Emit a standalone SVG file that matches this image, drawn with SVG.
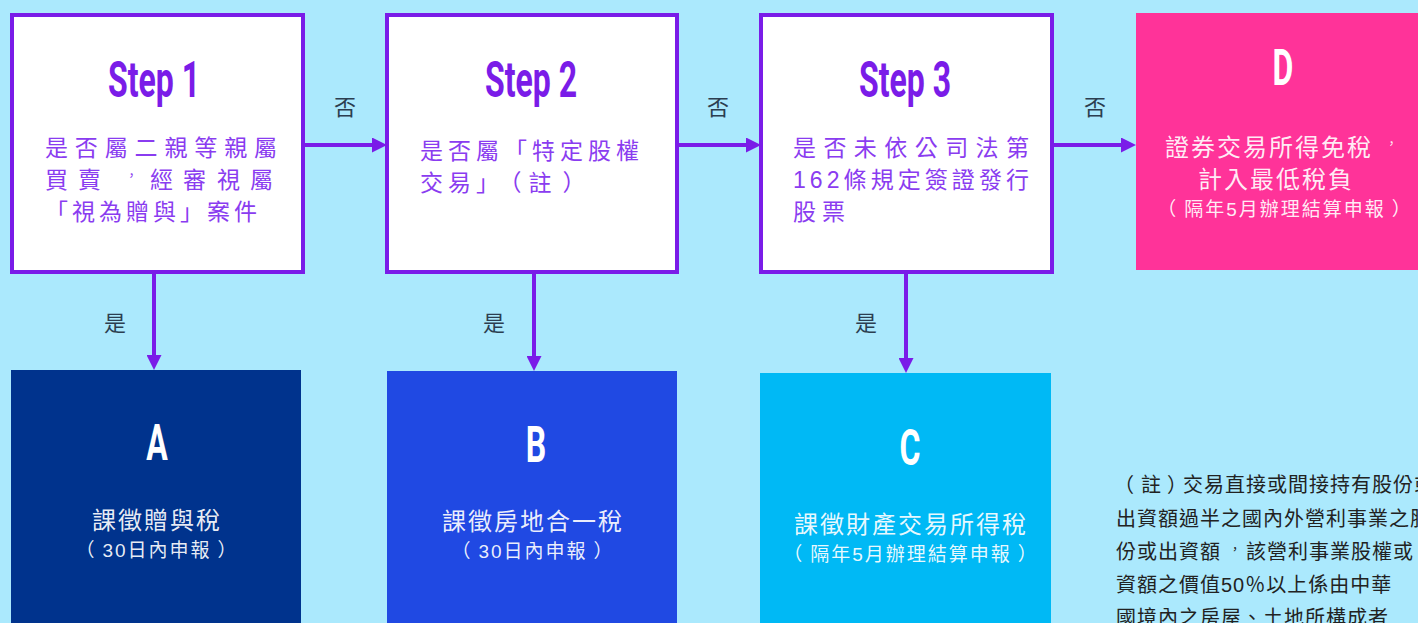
<svg xmlns="http://www.w3.org/2000/svg" xml:lang="zh-TW" lang="zh-TW" width="1418" height="623" viewBox="0 0 1418 623">
<defs>
<marker id="ah" markerUnits="userSpaceOnUse" markerWidth="15" markerHeight="15" refX="0" refY="7.5" orient="auto">
<path d="M0,0 L15,7.5 L0,15 z" fill="#7a1ce8"/>
</marker>
<style>
.step{fill:#fff;stroke:#7a1ce8;stroke-width:4}
.ttl{font-family:Roboto,"Liberation Sans",sans-serif;font-weight:bold;font-size:50px;text-anchor:middle}
.ttlp{fill:#7a1ce8}
.ttlw{fill:#fff}
.q{font-family:"Liberation Sans","Noto Sans CJK TC",sans-serif;font-size:23px;fill:#8a3cf0}
.w{font-family:"Liberation Sans","Noto Sans CJK TC",sans-serif;font-size:24px;fill:#fff;fill-opacity:0.92;text-anchor:middle;letter-spacing:2px}
.ws{font-family:"Liberation Sans","Noto Sans CJK TC",sans-serif;font-size:19px;fill:#fff;fill-opacity:0.92;text-anchor:middle;letter-spacing:2px}
.lbl{font-family:"Liberation Sans","Noto Sans CJK TC",sans-serif;font-size:22px;fill:#2c3e50;text-anchor:middle}
.note{font-family:"Liberation Sans","Noto Sans CJK TC",sans-serif;font-size:20px;fill:#222;letter-spacing:1px}
.cn{stroke:#7a1ce8;stroke-width:4;fill:none;marker-end:url(#ah)}
</style>
</defs>
<rect width="1418" height="623" fill="#abe9fd"/>

<g id="connectors">
<line class="cn" x1="305" y1="145" x2="372" y2="145"/>
<line class="cn" x1="679" y1="145" x2="746" y2="145"/>
<line class="cn" x1="1054" y1="145" x2="1121" y2="145"/>
<line class="cn" x1="154" y1="274" x2="154" y2="355"/>
<line class="cn" x1="534" y1="274" x2="534" y2="356"/>
<line class="cn" x1="906" y1="274" x2="906" y2="358"/>
<text class="lbl" x="345" y="115">否</text>
<text class="lbl" x="718" y="115">否</text>
<text class="lbl" x="1095" y="115">否</text>
<text class="lbl" x="115" y="331">是</text>
<text class="lbl" x="494" y="331">是</text>
<text class="lbl" x="866" y="331">是</text>
</g>

<g id="step1">
<rect class="step" x="12" y="15" width="291" height="257"/>
<text class="ttl ttlp" transform="translate(154,97) scale(0.64,1)">Step 1</text>
<text class="q" x="45" y="156" textLength="232" lengthAdjust="spacing">是否屬二親等親屬</text>
<text class="q" y="188"><tspan x="45 78">買賣</tspan><tspan x="125" y="180" font-size="13">，</tspan><tspan x="150 183 217 250" y="188">經審視屬</tspan></text>
<text class="q" x="45" y="220" textLength="212" lengthAdjust="spacing">「視為贈與」案件</text>
</g>

<g id="step2">
<rect class="step" x="387" y="15" width="290" height="257"/>
<text class="ttl ttlp" transform="translate(531,97) scale(0.64,1)">Step 2</text>
<text class="q" x="420" y="159" letter-spacing="5">是否屬「特定股權</text>
<text class="q" x="420" y="191" letter-spacing="5">交易」<tspan dx="6">（</tspan><tspan dx="2">註</tspan><tspan dx="6">）</tspan></text>
</g>

<g id="step3">
<rect class="step" x="761" y="15" width="291" height="257"/>
<text class="ttl ttlp" transform="translate(905,97) scale(0.64,1)">Step 3</text>
<text class="q" x="793" y="156" textLength="236" lengthAdjust="spacing">是否未依公司法第</text>
<text class="q" x="793" y="188" textLength="236" lengthAdjust="spacing">162條規定簽證發行</text>
<text class="q" x="793" y="220" letter-spacing="6">股票</text>
</g>

<g id="nodeD">
<rect x="1136" y="13" width="290" height="257" fill="#ff3399"/>
<text class="ttl ttlw" transform="translate(1283,85) scale(0.64,1)">D</text>
<text class="w" style="text-anchor:start" x="1165" y="156">證券交易所得免稅<tspan x="1385" y="148" font-size="13">，</tspan></text>
<text class="w" x="1276" y="188">計入最低稅負</text>
<text class="ws" x="1285" y="216">（<tspan dx="6">隔年5月辦理結算申報</tspan><tspan dx="6">）</tspan></text>
</g>

<g id="nodeA">
<rect x="11" y="370" width="290" height="260" fill="#00338d"/>
<text class="ttl ttlw" transform="translate(157,460) scale(0.64,1)">A</text>
<text class="w" x="157" y="529">課徵贈與稅</text>
<text class="ws" x="157" y="557">（<tspan dx="6">30日內申報</tspan><tspan dx="6">）</tspan></text>
</g>

<g id="nodeB">
<rect x="387" y="371" width="290" height="260" fill="#2049e3"/>
<text class="ttl ttlw" transform="translate(536,462) scale(0.64,1)">B</text>
<text class="w" x="533" y="530">課徵房地合一稅</text>
<text class="ws" x="533" y="558">（<tspan dx="6">30日內申報</tspan><tspan dx="6">）</tspan></text>
</g>

<g id="nodeC">
<rect x="760" y="373" width="291" height="260" fill="#00b9f5"/>
<text class="ttl ttlw" transform="translate(910,465) scale(0.64,1)">C</text>
<text class="w" x="911" y="533">課徵財產交易所得稅</text>
<text class="ws" x="911" y="561">（<tspan dx="6">隔年5月辦理結算申報</tspan><tspan dx="6">）</tspan></text>
</g>

<g id="note">
<text class="note" x="1114" y="492">（<tspan dx="6">註</tspan><tspan dx="5">）</tspan><tspan dx="-5">交易直接或間接持有股份或</tspan></text>
<text class="note" x="1116" y="526">出資額過半之國內外營利事業之股</text>
<text class="note" x="1116" y="559">份或出資額<tspan x="1229" y="554" font-size="12">，</tspan><tspan x="1246" y="559">該營利事業股權或</tspan></text>
<text class="note" x="1116" y="592">資額之價值50％以上係由中華</text>
<text class="note" x="1116" y="625">國境內之房屋、土地所構成者</text>
</g>
</svg>
